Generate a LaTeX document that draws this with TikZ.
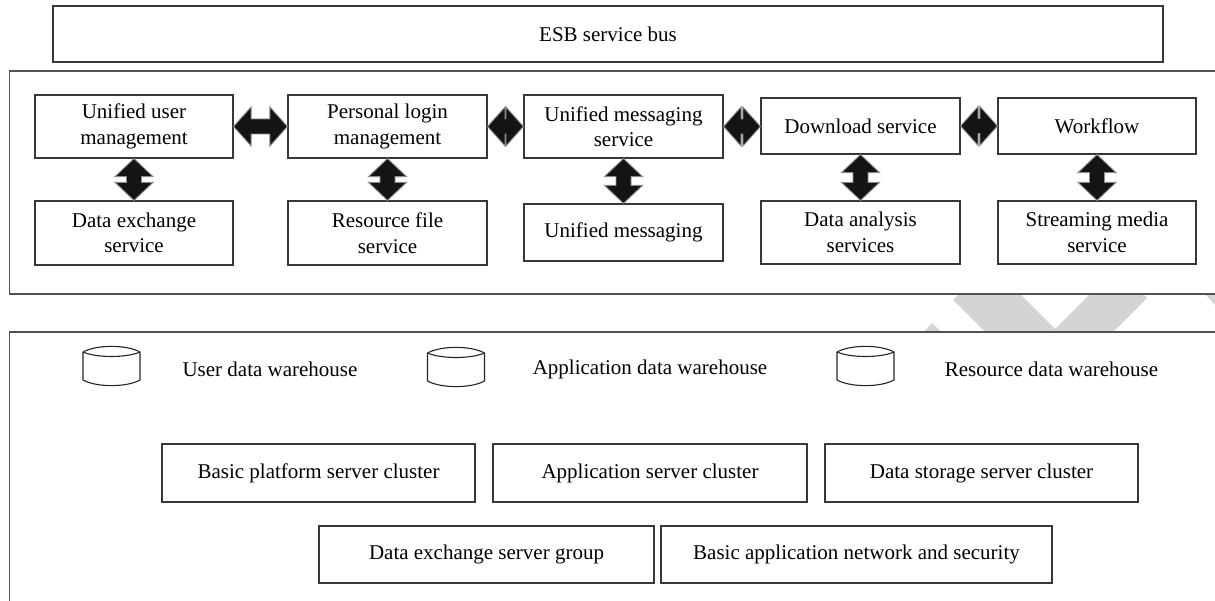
\documentclass[tikz,border=0pt]{standalone}
\usepackage{fontspec}
\setmainfont{Liberation Serif}
\usetikzlibrary{calc}

\tikzset{
  txt/.style={font=\fontsize{21}{25.5}\selectfont},
  box/.style={txt, draw=black!78, line width=1.2pt, fill=white, inner sep=2pt, align=center},
  frame/.style={draw=black!68, line width=1.3pt, fill=white},
  caption/.style={txt, inner sep=0pt},
  link/.style={fill=black!92, draw=black!45, line width=0.9pt, line join=miter},
  shade/.style={fill=black!17, draw=none},
  store/.style={draw=black!85, line width=1.1pt, fill=white},
  warehouse/.pic={
    \draw[store] (-28.5,-14) .. controls (-15,-21.5) and (15,-21.5) .. (28.5,-14)
      -- (28.5,14) .. controls (15,21.5) and (-15,21.5) .. (-28.5,14) -- cycle;
    \draw[store] (-28.5,-14) .. controls (-15,-8) and (15,-8) .. (28.5,-14);
  }
}

% double-headed block arrow, left box to right box
\newcommand\linkh[2]{%
  \path[link] let \p1=(#1.east), \p2=(#2.west) in
    (\x1,\y1) -- (\x1+17.5pt,\y1+19.5pt) -- (\x1+17.5pt,\y1+7.5pt)
    -- (\x2-17.5pt,\y1+7.5pt) -- (\x2-17.5pt,\y1+19.5pt) -- (\x2,\y1)
    -- (\x2-17.5pt,\y1-19.5pt) -- (\x2-17.5pt,\y1-7.5pt)
    -- (\x1+17.5pt,\y1-7.5pt) -- (\x1+17.5pt,\y1-19.5pt) -- cycle;}
% double-headed block arrow, upper box to lower box
\newcommand\linkv[2]{%
  \path[link] let \p1=(#1.south), \p2=(#2.north) in
    (\x1,\y1) -- (\x1+19pt,\y1-18pt) -- (\x1+7.5pt,\y1-18pt)
    -- (\x1+7.5pt,\y2+18pt) -- (\x1+19pt,\y2+18pt) -- (\x1,\y2)
    -- (\x1-19pt,\y2+18pt) -- (\x1-7.5pt,\y2+18pt)
    -- (\x1-7.5pt,\y1-18pt) -- (\x1-19pt,\y1-18pt) -- cycle;}

\begin{document}
\begin{tikzpicture}[x=1pt, y=-1pt]
\useasboundingbox (0,0) rectangle (1215,601);
\clip (0,0) rectangle (1215,601);

% grey band shapes between the two layers
\fill[shade] (953,300) -- (959,294) -- (1020,294) -- (1055,329) -- (1090,294)
  -- (1143,294) -- (1147,298) -- (1113,332) -- (985,332) -- cycle;
\fill[shade] (924,332) -- (932,323) -- (941,332) -- cycle;
\fill[shade] (1205,294) -- (1215,294) -- (1215,305) -- cycle;

% service bus
\node[box, minimum width=1110pt, minimum height=56pt] (esb) at (608,34) {ESB service bus};

% service layer
\draw[frame] (9.5,71) rectangle (1240,294);

\node[box, minimum width=198pt, minimum height=63pt] (b1) at (134,126.5) {Unified user\\management};
\node[box, minimum width=199pt, minimum height=63pt] (b2) at (387.5,126.5) {Personal login\\management};
\node[box, minimum width=199pt, minimum height=63pt] (b3) at (623.5,126.5) {Unified messaging\\service};
\node[box, minimum width=199pt, minimum height=56pt] (b4) at (860.5,126) {Download service};
\node[box, minimum width=198pt, minimum height=56pt] (b5) at (1097,126) {Workflow};

\node[box, minimum width=198pt, minimum height=64pt] (d1) at (134,233) {Data exchange\\service};
\node[box, minimum width=199pt, minimum height=64pt] (d2) at (387.5,233) {Resource file\\service};
\node[box, minimum width=199pt, minimum height=57pt] (d3) at (623.5,232.5) {Unified messaging};
\node[box, minimum width=199pt, minimum height=63pt] (d4) at (860.5,232.5) {Data analysis\\services};
\node[box, minimum width=198pt, minimum height=63pt] (d5) at (1097,232.5) {Streaming media\\service};

\linkh{b1}{b2}
\linkh{b2}{b3}
\linkh{b3}{b4}
\linkh{b4}{b5}
\linkv{b1}{d1}
\linkv{b2}{d2}
\linkv{b3}{d3}
\linkv{b4}{d4}
\linkv{b5}{d5}

% data and infrastructure layer
\draw[frame] (9.5,332) rectangle (1240,640);

\pic (w1) at (111.5,366) {warehouse};
\pic (w2) at (456,367) {warehouse};
\pic (w3) at (865.5,366) {warehouse};
\node[caption] (t1) at (270,369) {User data warehouse};
\node[caption] (t2) at (650,369) {Application data warehouse};
\node[caption] (t3) at (1051.5,369) {Resource data warehouse};

\node[box, minimum width=313pt, minimum height=58pt] (s1) at (318.5,473) {Basic platform server cluster};
\node[box, minimum width=314pt, minimum height=58pt] (s2) at (650,473) {Application server cluster};
\node[box, minimum width=313pt, minimum height=58pt] (s3) at (981.5,473) {Data storage server cluster};
\node[box, minimum width=335pt, minimum height=57pt] (s4) at (486.5,554.5) {Data exchange server group};
\node[box, minimum width=391pt, minimum height=57pt] (s5) at (856.5,554.5) {Basic application network and security};
\end{tikzpicture}
\end{document}
